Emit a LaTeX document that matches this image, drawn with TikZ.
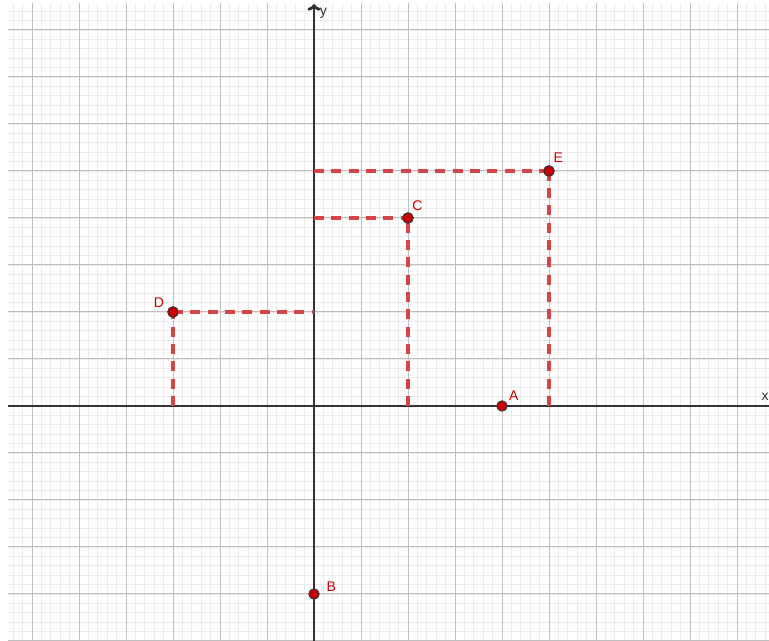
\documentclass[tikz,border=0pt]{standalone}
\usepackage{fontspec}
\setmainfont{Liberation Sans}
\usetikzlibrary{arrows.meta}
\definecolor{ptred}{HTML}{CC0000}
\definecolor{dashred}{HTML}{D64545}
\definecolor{axisgray}{HTML}{333333}
\tikzset{
  minorgrid/.style={draw=black!8, line width=0.5pt},
  majorgrid/.style={draw=black!25, line width=0.6pt},
  axisline/.style={draw=axisgray, line width=1.7pt},
  proj/.style={draw=dashred, line width=1.9pt, dash pattern=on 6pt off 4.5pt},
  pt/.style={circle, fill=ptred, draw=black!80, line width=0.6pt, inner sep=0pt, minimum size=0.22cm},
  lbl/.style={text=ptred, font=\fontsize{8.5}{10}\selectfont, inner sep=0pt},
  axlbl/.style={text=axisgray, font=\fontsize{8.5}{10}\selectfont, inner sep=0pt}
}
\begin{document}
\begin{tikzpicture}
\useasboundingbox[fill=white] (-6.681,-5.0) rectangle (9.681,8.638);
\begin{scope}
\clip (-6.51,-5.0) rectangle (9.681,8.57);
\draw[minorgrid, step=0.2] (-6.8,-5.2) grid (9.8,8.8);
\draw[majorgrid, step=1] (-6.8,-5.2) grid (9.8,8.8);
\end{scope}
% axes
\coordinate (xl) at (-6.51,0);
\coordinate (xr) at (9.681,0);
\coordinate (yb) at (0,-5.0);
\coordinate (yt) at (0,8.55);
\draw[axisline] (xl) -- (xr);
\draw[axisline, -{To[length=4pt,width=8pt]}] (yb) -- (yt);
\node[axlbl] (ylab) at (0.2,8.36) {y};
\node[axlbl] (xlab) at (9.6,0.2) {x};
% projection helpers
\coordinate (Dx) at (-3,0);
\coordinate (Dy) at (0,2);
\coordinate (Cx) at (2,0);
\coordinate (Cy) at (0,4);
\coordinate (Ex) at (5,0);
\coordinate (Ey) at (0,5);
\node[pt] (D) at (-3,2) {};
\node[pt] (C) at (2,4) {};
\node[pt] (E) at (5,5) {};
\node[pt] (A) at (4,0) {};
\node[pt] (B) at (0,-4) {};
\draw[proj] (Dx) -- (D.center);
\draw[proj] (D.center) -- (Dy);
\draw[proj] (Cx) -- (C.center);
\draw[proj] (Cy) -- (C.center);
\draw[proj] (Ex) -- (E.center);
\draw[proj] (Ey) -- (E.center);
\node[pt] at (D) {};
\node[pt] at (C) {};
\node[pt] at (E) {};
\node[lbl] (lA) at (4.25,0.23) {A};
\node[lbl] (lB) at (0.37,-3.85) {B};
\node[lbl] (lC) at (2.2,4.27) {C};
\node[lbl] (lD) at (-3.3,2.2) {D};
\node[lbl] (lE) at (5.2,5.29) {E};
\end{tikzpicture}
\end{document}
